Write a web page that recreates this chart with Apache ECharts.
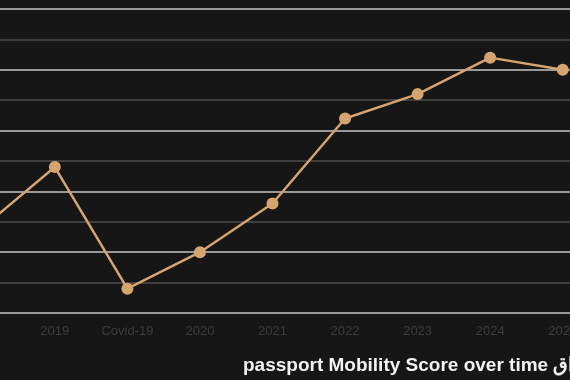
<!DOCTYPE html>
<html>
<head>
<meta charset="utf-8">
<script src="https://cdn.jsdelivr.net/npm/echarts@6/dist/echarts.min.js"></script>
<style>
html,body{margin:0;padding:0;background:#161616;overflow:hidden;width:570px;height:380px;position:relative;}
#c{position:absolute;left:-54px;top:0;width:653px;height:380px;}
</style>
</head>
<body>
<div id="c"></div>
<script>
const categories = ['2018', '2019', 'Covid-19', '2020', '2021', '2022', '2023', '2024', '2025'];
const scores = [26.8, 28.8, 24.8, 26.0, 27.6, 30.4, 31.2, 32.4, 32.0];
const yMin = 24, yMax = 34, yStep = 1;
const titleText = 'passport Mobility Score over time العراق';

const chart = echarts.init(document.getElementById('c'), null, {renderer: 'canvas'});
chart.setOption({
  backgroundColor: '#161616',
  animation: false,
  title: {
    text: titleText,
    left: 292,
    top: 351,
    textStyle: {color: '#f2f2f2', fontSize: 19, fontWeight: 'bold', fontFamily: 'Liberation Sans, Arial, sans-serif'}
  },
  grid: {left: 0, right: 0, top: 9, bottom: 67, containLabel: false},
  xAxis: {
    type: 'category',
    data: categories,
    boundaryGap: true,
    axisLine: {show: false},
    axisTick: {show: false},
    axisLabel: {color: '#3c3c3c', fontSize: 13, margin: 12, interval: 0, fontFamily: 'Liberation Sans, Arial, sans-serif'},
    splitLine: {show: false}
  },
  yAxis: {
    type: 'value',
    min: yMin, max: yMax, interval: yStep,
    axisLine: {show: false},
    axisTick: {show: false},
    axisLabel: {show: false},
    splitLine: {show: true, lineStyle: {color: ['#c4c4c4', '#4e4e4e'], width: 1.5}}
  },
  series: [{
    type: 'line',
    data: scores,
    symbol: 'circle',
    symbolSize: 12,
    itemStyle: {color: '#d6a46e'},
    lineStyle: {color: '#d6a46e', width: 2.5}
  }]
});
</script>
</body>
</html>
